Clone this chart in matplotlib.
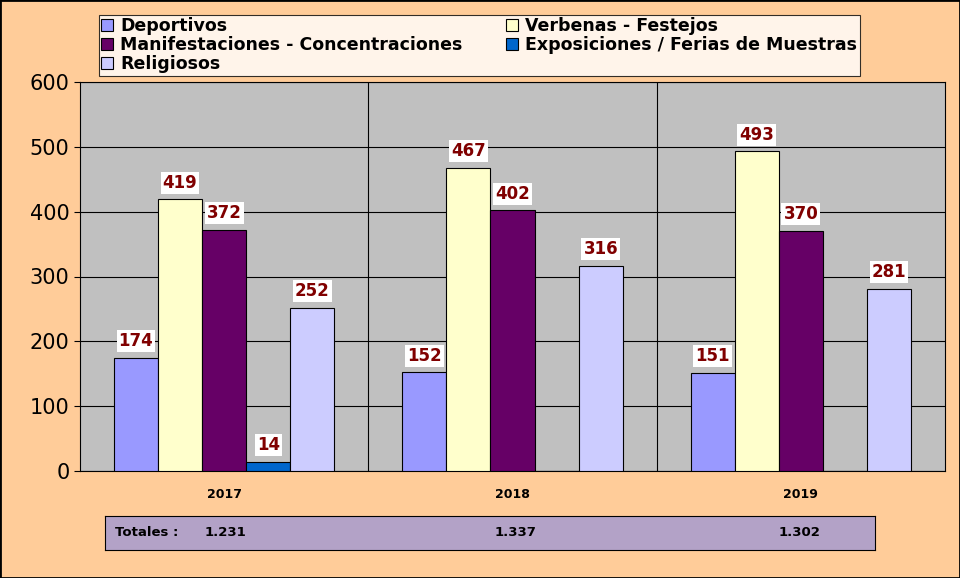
import matplotlib
matplotlib.use("Agg")
import matplotlib.pyplot as plt
import numpy as np

years = ["2017", "2018", "2019"]
series = ["Deportivos", "Verbenas - Festejos", "Manifestaciones - Concentraciones",
          "Exposiciones / Ferias de Muestras", "Religiosos"]
deportivos = [174, 152, 151]
verbenas = [419, 467, 493]
manifest = [372, 402, 370]
exposic = [14, 0, 0]
religiosos = [252, 316, 281]
totales = ["1.231", "1.337", "1.302"]
colors = ["#9999FF", "#FFFFCC", "#660066", "#0066CC", "#CCCCFF"]

data = [deportivos, verbenas, manifest, exposic, religiosos]
fig = plt.figure(figsize=(9.6, 5.78), dpi=100, facecolor="#FFCC99")
fig.patches.append(plt.Rectangle((0, 0), 1, 1, transform=fig.transFigure, fill=False,
                                 edgecolor="black", lw=2))
ax = fig.add_axes([80/960, 1-471/578, 865/960, 389/578])
ax.set_facecolor("#C0C0C0")
x = np.arange(3)
w = 0.153
handles = []
for i, (vals, c, name) in enumerate(zip(data, colors, series)):
    bars = ax.bar(x + (i-2)*w, vals, w, color=c, edgecolor="black", lw=0.8, label=name, zorder=3)
    handles.append(bars)
    for xi, v in zip(x, vals):
        if v > 0:
            ax.text(xi + (i-2)*w, v + 12, str(v), ha="center", va="bottom", color="#800000",
                    fontsize=12, fontweight="bold", zorder=4,
                    bbox=dict(facecolor="white", edgecolor="none", pad=1.5))
ax.set_xlim(-0.5, 2.5)
ax.set_ylim(0, 600)
ax.set_yticks(range(0, 601, 100))
ax.tick_params(axis="y", labelsize=15, length=4)
ax.set_xticks(x)
ax.set_xticklabels(years, fontsize=9, fontweight="bold")
ax.tick_params(axis="x", length=0, pad=12)
ax.yaxis.grid(True, color="black", lw=0.8, zorder=0)
for b in [0.5, 1.5]:
    ax.axvline(b, color="black", lw=0.8, zorder=0)
for s in ax.spines.values():
    s.set_linewidth(0.8)

leg = fig.legend(handles=handles, loc="upper left", bbox_to_anchor=(90/960, 1-8/578),
                 ncol=2, fontsize=12.5, prop={"weight": "bold", "size": 12.5},
                 frameon=True, fancybox=False, edgecolor="black", handlelength=0.7,
                 handleheight=0.7, borderpad=0.2, labelspacing=0.05, columnspacing=1.5,
                 handletextpad=0.4)
leg.get_frame().set_linewidth(0.8)
# reorder is by columns: matplotlib fills column-first; set order for row-wise
handles_rw = [handles[0], handles[2], handles[4], handles[1], handles[3]]
leg.remove()
leg = fig.legend(handles=handles_rw, labels=[series[0], series[2], series[4], series[1], series[3]],
                 loc="upper left", bbox_to_anchor=(90/960, 1-6/578), ncol=2,
                 prop={"weight": "bold", "size": 12.5}, frameon=True, fancybox=False,
                 edgecolor="black", handlelength=0.7, handleheight=0.7, borderpad=0.15,
                 labelspacing=0.05, columnspacing=2.5, handletextpad=0.4)
leg.get_frame().set_linewidth(0.8)

tb = fig.add_axes([105/960, 1-550/578, 770/960, 34/578])
tb.set_facecolor("#B3A2C7")
tb.set_xticks([]); tb.set_yticks([])
tb.text(10/770, 0.5, "Totales :", fontsize=9.5, fontweight="bold", va="center", transform=tb.transAxes)
for xi, t in zip([120, 410, 695], totales):
    tb.text(xi/770, 0.5, t, fontsize=9.5, fontweight="bold", va="center", ha="center", transform=tb.transAxes)

fig.savefig("out.png", dpi=100, facecolor=fig.get_facecolor())
